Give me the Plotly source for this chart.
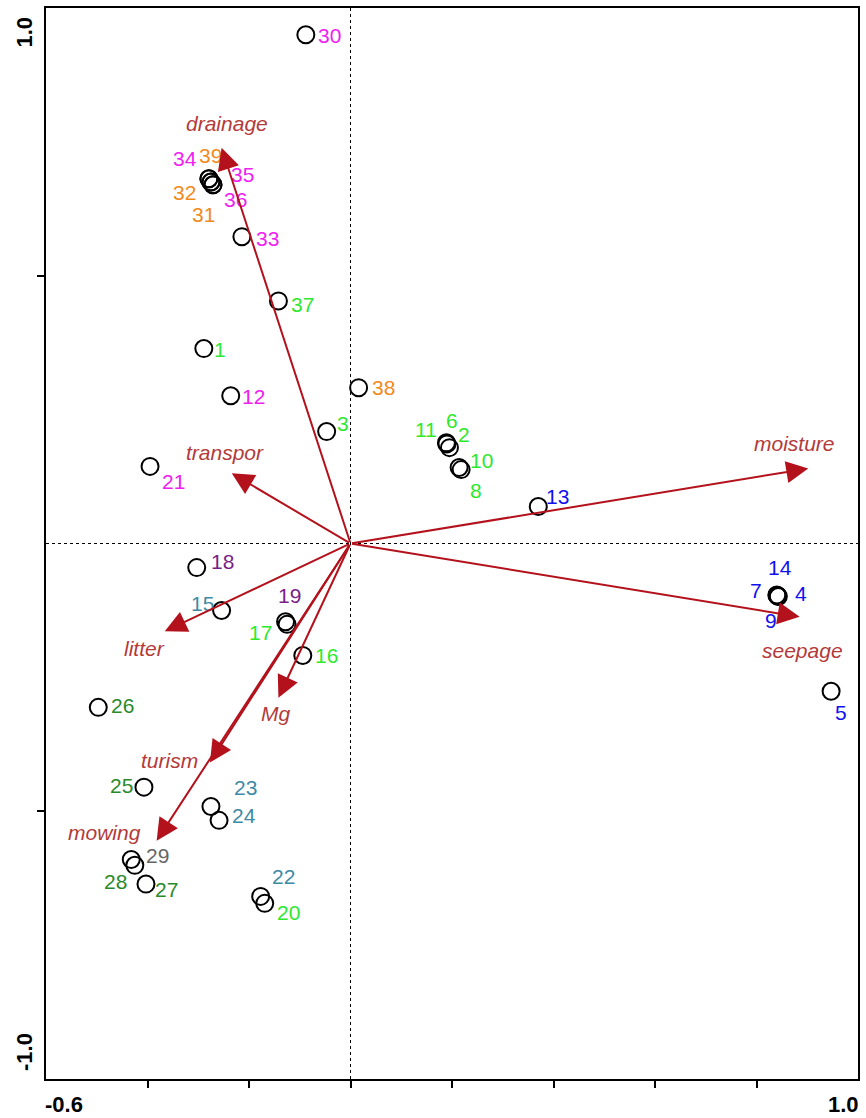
import plotly.graph_objects as go

# Sample scores (site number, axis 1, axis 2)
site_ids = [30, 34, 39, 35, 32, 36, 31, 33, 37, 1, 12, 38, 3, 21,
            11, 6, 2, 10, 8, 13, 14, 7, 4, 9, 5,
            18, 15, 19, 17, 16, 26, 25, 23, 24, 29, 28, 27, 22, 20]
site_x = [-0.088, -0.279, -0.279, -0.275, -0.275, -0.271, -0.271, -0.214, -0.142, -0.289, -0.236, 0.016, -0.047, -0.395,
          0.189, 0.190, 0.195, 0.214, 0.218, 0.370, 0.840, 0.841, 0.843, 0.842, 0.947,
          -0.303, -0.254, -0.128, -0.125, -0.094, -0.497, -0.407, -0.275, -0.259, -0.432, -0.425, -0.403, -0.177, -0.169]
site_y = [0.950, 0.681, 0.681, 0.675, 0.675, 0.670, 0.670, 0.573, 0.453, 0.364, 0.276, 0.291, 0.209, 0.144,
          0.188, 0.186, 0.179, 0.142, 0.138, 0.069, -0.096, -0.097, -0.099, -0.098, -0.276,
          -0.045, -0.125, -0.146, -0.151, -0.209, -0.306, -0.455, -0.491, -0.517, -0.590, -0.601, -0.636, -0.659, -0.672]
site_group = ["m", "m", "o", "m", "o", "m", "o", "m", "g", "g", "m", "o", "g", "m",
              "g", "g", "g", "g", "g", "b", "b", "b", "b", "b", "b",
              "p", "t", "p", "g", "g", "d", "d", "t", "t", "k", "d", "d", "t", "g"]

# Environmental variable vectors (tip coordinates)
env_names = ["drainage", "moisture", "seepage", "transpor", "litter", "Mg", "turism", "mowing"]
env_x = [-0.254, 0.902, 0.885, -0.234, -0.366, -0.142, -0.277, -0.382]
env_y = [0.739, 0.140, -0.137, 0.131, -0.164, -0.288, -0.409, -0.555]

group_colors = {
    "m": "#f020f0",  # magenta
    "o": "#f08a1c",  # orange
    "g": "#2ee82e",  # light green
    "b": "#1010f0",  # blue
    "p": "#7a1f86",  # purple
    "t": "#3e8aa4",  # teal
    "d": "#2a8a2a",  # dark green
    "k": "#666666",  # grey
}

# label offsets from the site symbol, in pixels (dx right, dy up)
site_label_offset = {
    30: (24, -1), 34: (-24, 20), 39: (2, 23), 35: (32, 8), 32: (-26, -10), 36: (23, -15),
    31: (-9, -30), 33: (26, -2), 37: (24, -4), 1: (16, -1), 12: (23, -1), 38: (25, 0),
    3: (16, 8), 21: (23, -15), 11: (-20, 13), 6: (5, 23), 2: (15, 13), 10: (22, 7),
    8: (15, -21), 13: (19, 10), 14: (3, 27), 7: (-21, 5), 4: (23, 3), 9: (-7, -25),
    5: (10, -21), 18: (26, 6), 15: (-19, 7), 19: (4, 26), 17: (-27, -8), 16: (24, 0),
    26: (24, 2), 25: (-22, 2), 23: (35, 19), 24: (25, 5), 29: (26, 4), 28: (-19, -16),
    27: (21, -5), 22: (23, 20), 20: (24, -9),
}
env_label_offset = {
    "drainage": (5, 24), "moisture": (-14, 25), "seepage": (3, -34), "transpor": (-7, 21),
    "litter": (-20, -17), "Mg": (-3, -16), "turism": (-40, 2), "mowing": (-52, 8),
}

FONT = "Liberation Sans, Arial, sans-serif"
ARROW_COLOR = "#b3121c"
ENV_TEXT = "#b33a3a"

fig = go.Figure()

# origin reference lines
fig.add_shape(type="line", x0=-0.6, x1=1.0, y0=0, y1=0, xref="x", yref="y",
              line=dict(color="black", width=1, dash="dot"), layer="below")
fig.add_shape(type="line", x0=0, x1=0, y0=-1.0, y1=1.0, xref="x", yref="y",
              line=dict(color="black", width=1, dash="dot"), layer="below")

fig.add_trace(go.Scatter(
    x=site_x, y=site_y, mode="markers",
    marker=dict(symbol="circle-open", size=17, color="black", line=dict(width=2, color="black")),
    hoverinfo="text", text=[str(s) for s in site_ids], showlegend=False,
))

annotations = []
for sid, x, y, g in zip(site_ids, site_x, site_y, site_group):
    dx, dy = site_label_offset[sid]
    annotations.append(dict(
        x=x, y=y, xref="x", yref="y", text=str(sid), showarrow=False,
        xshift=dx, yshift=dy, font=dict(family=FONT, size=21, color=group_colors[g]),
    ))

for name, x, y in zip(env_names, env_x, env_y):
    annotations.append(dict(
        x=x, y=y, xref="x", yref="y", ax=0, ay=0, axref="x", ayref="y",
        text="", showarrow=True, arrowhead=2, arrowsize=2.2, arrowwidth=2,
        arrowcolor=ARROW_COLOR, standoff=0,
    ))
    dx, dy = env_label_offset[name]
    annotations.append(dict(
        x=x, y=y, xref="x", yref="y", text="<i>%s</i>" % name, showarrow=False,
        xshift=dx, yshift=dy, font=dict(family=FONT, size=21, color=ENV_TEXT),
    ))

# axis end labels
tick_font = dict(family=FONT, size=22, color="black")
annotations += [
    dict(x=-0.6, y=0, xref="x", yref="paper", text="<b>-0.6</b>", showarrow=False,
         xanchor="left", yanchor="top", xshift=-3, yshift=-11, font=tick_font),
    dict(x=1.0, y=0, xref="x", yref="paper", text="<b>1.0</b>", showarrow=False,
         xanchor="right", yanchor="top", xshift=3, yshift=-11, font=tick_font),
    dict(x=0, y=1.0, xref="paper", yref="y", text="<b>1.0</b>", showarrow=False,
         xanchor="center", yanchor="top", xshift=-22, yshift=-7, textangle=-90, font=tick_font),
    dict(x=0, y=-1.0, xref="paper", yref="y", text="<b>-1.0</b>", showarrow=False,
         xanchor="center", yanchor="bottom", xshift=-22, yshift=6, textangle=-90, font=tick_font),
]

fig.update_layout(
    width=866, height=1118,
    margin=dict(l=46, r=6, t=7, b=39),
    paper_bgcolor="white", plot_bgcolor="white",
    annotations=annotations,
    xaxis=dict(range=[-0.6, 1.0], showgrid=False, zeroline=False,
               tickvals=[-0.4, -0.2, 0, 0.2, 0.4, 0.6, 0.8], showticklabels=False,
               ticks="outside", ticklen=7, tickwidth=2, tickcolor="black",
               showline=True, linewidth=2, linecolor="black", mirror=True),
    yaxis=dict(range=[-1.0, 1.0], showgrid=False, zeroline=False,
               tickvals=[-0.5, 0.5], showticklabels=False,
               ticks="outside", ticklen=7, tickwidth=2, tickcolor="black",
               showline=True, linewidth=2, linecolor="black", mirror=True),
)

fig.write_html("out.html")
